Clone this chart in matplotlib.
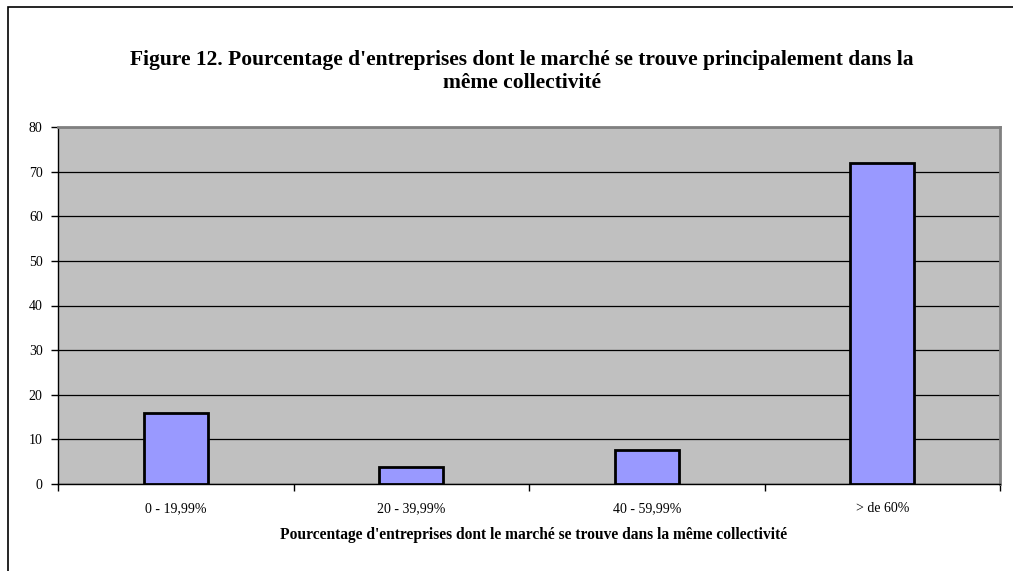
import matplotlib
matplotlib.use("Agg")
import matplotlib.pyplot as plt
from matplotlib.patches import Rectangle
import numpy as np

categories = ["0 - 19,99%", "20 - 39,99%", "40 - 59,99%", "> de 60%"]
values = [16, 3.8, 7.7, 72]
yticks = [0, 10, 20, 30, 40, 50, 60, 70, 80]

title = "Figure 12. Pourcentage d'entreprises dont le marché se trouve principalement dans la\nmême collectivité"
xlabel = "Pourcentage d'entreprises dont le marché se trouve dans la même collectivité"

plt.rcParams['font.family'] = ['Liberation Serif', 'DejaVu Serif']

W, H = 1013, 571
fig = plt.figure(figsize=(W/100, H/100), dpi=100)
fig.patch.set_facecolor('white')

# outer border (left/top visible)
fig.add_artist(Rectangle((8/W, -0.1), 1.2, 1 - 7/H + 0.1, transform=fig.transFigure,
                         fill=False, edgecolor='black', linewidth=1.2))

left, right, top, bottom = 58, 1000, 127, 484
ax = fig.add_axes([left/W, 1 - bottom/H, (right-left)/W, (bottom-top)/H])
ax.set_facecolor('#C0C0C0')

x = np.arange(len(categories))
ax.bar(x, values, width=0.27, color='#9999FF', edgecolor='black', linewidth=2, zorder=3)

ax.set_xlim(-0.5, len(categories) - 0.5)
ax.set_ylim(0, 80)
ax.set_yticks(yticks)
ax.set_yticklabels([str(v) for v in yticks], fontsize=10)
ax.yaxis.grid(True, color='black', linewidth=0.9, zorder=1)
ax.set_axisbelow(True)

ax.set_xticks(np.arange(len(categories) + 1) - 0.5)
ax.set_xticklabels([])
ax.set_xticks(x, minor=True)
ax.set_xticklabels(categories, minor=True, fontsize=10)
ax.tick_params(axis='x', which='minor', length=0, pad=13)
ax.tick_params(axis='x', which='major', length=5, width=1, color='black')
ax.tick_params(axis='y', length=5, width=1, color='black', pad=6)

for s in ['top', 'right']:
    ax.spines[s].set_color('#808080')
    ax.spines[s].set_linewidth(2)
for s in ['left', 'bottom']:
    ax.spines[s].set_color('black')
    ax.spines[s].set_linewidth(1)

fig.text(522/W, 1 - 71.5/H, title, ha='center', va='center', fontsize=15.5,
         fontweight='bold', linespacing=1.2)
fig.text(534/W, 1 - 535/H, xlabel, ha='center', va='center', fontsize=11.2,
         fontweight='bold')

fig.savefig('out.png', dpi=100)
